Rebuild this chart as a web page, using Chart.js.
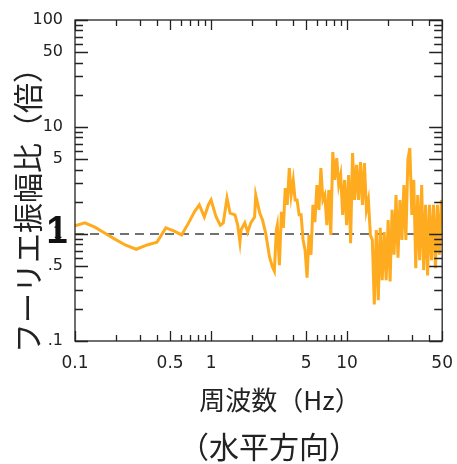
<!DOCTYPE html>
<html>
<head>
<meta charset="utf-8">
<script src="https://cdn.jsdelivr.net/npm/chart.js@4.4.1/dist/chart.umd.min.js"></script>
<style>
  html, body { margin: 0; padding: 0; background: #fff; }
  #wrap { width: 457px; height: 464px; position: relative; }
</style>
</head>
<body>
<div id="wrap"><canvas id="myChart"></canvas></div>
<script>
// frequency (Hz) and Fourier amplitude ratio
var freqHz = [
  0.1, 0.118, 0.14, 0.165, 0.195, 0.234, 0.282, 0.339, 0.40, 0.428,
  0.465, 0.532, 0.608, 0.684, 0.755, 0.82, 0.893, 0.955, 1.0, 1.09,
  1.17, 1.23, 1.31, 1.38, 1.50, 1.57, 1.63, 1.66, 1.77, 1.86,
  1.96, 2.09, 2.13, 2.28, 2.39, 2.52, 2.69, 2.83, 2.92, 3.02,
  3.07, 3.18, 3.29, 3.40, 3.51, 3.63, 3.76, 3.88, 4.02, 4.15,
  4.29, 4.44, 4.59, 4.75, 4.91, 5.08, 5.25, 5.43, 5.61, 5.80,
  6.00, 6.21, 6.42, 6.64, 6.86, 7.10, 7.34, 7.59, 7.85, 8.11,
  8.39, 8.68, 8.97, 9.28, 9.59, 9.92, 10.26, 10.61, 10.97, 11.34,
  11.73, 12.13, 12.54, 12.97, 13.41, 13.87, 14.34, 14.83, 15.33, 15.85,
  16.39, 16.95, 17.52, 18.12, 18.73, 19.37, 20.03, 20.71, 21.41, 22.14,
  22.89, 23.67, 24.47, 25.30, 26.16, 27.05, 27.97, 28.92, 29.90, 30.92,
  31.97, 33.05, 34.17, 35.33, 36.53, 37.77, 39.05, 40.37, 41.74, 43.16,
  44.62, 46.13, 47.70, 49.32, 50
];
var ampRatio = [
  1.19, 1.27, 1.16, 1.02, 0.90, 0.79, 0.72, 0.79, 0.84, 0.96,
  1.14, 1.07, 0.98, 1.27, 1.61, 1.87, 1.44, 1.87, 2.08, 1.44,
  1.21, 1.27, 2.17, 1.57, 1.51, 1.21, 0.84, 1.09, 1.27, 1.04,
  1.27, 1.44, 2.31, 1.57, 1.35, 1.02, 0.61, 0.49, 0.45, 1.09,
  1.21, 0.51, 1.61, 1.14, 2.69, 1.87, 4.14, 2.31, 3.20, 2.08,
  2.08, 1.51, 1.51, 0.88, 0.71, 0.39, 0.98, 0.64, 1.87, 1.29,
  2.87, 1.68, 4.14, 2.08, 2.31, 1.21, 2.58, 0.98, 5.84, 3.20,
  5.13, 2.87, 3.56, 1.51, 3.20, 1.21, 3.56, 0.82, 5.71, 2.08,
  4.42, 2.08, 4.71, 1.87, 4.61, 1.68, 2.08, 0.98, 0.88, 0.22,
  1.09, 0.24, 1.14, 0.37, 1.04, 0.37, 1.35, 0.36, 1.68, 0.64,
  2.31, 0.60, 2.08, 0.88, 2.87, 0.88, 4.92, 6.36, 1.51, 3.20,
  0.48, 2.31, 0.57, 2.87, 0.46, 1.87, 0.41, 1.87, 0.57, 1.87,
  0.48, 1.87, 0.64, 2.08, 1.68
];

var xTicks = [0.1, 0.5, 1, 5, 10, 50];
var xTickLabels = ['0.1', '0.5', '1', '5', '10', '50'];
var yTicks = [0.1, 0.5, 1, 5, 10, 50, 100];
var yTickLabels = ['.1', '.5', '1', '5', '10', '50', '100'];
var refLevel = [1, 1];

var xTitle = '周波数（Hz）';
var xSubTitle = '（水平方向）';
var yTitle = 'フーリエ振幅比（倍）';

var points = freqHz.map(function(f, i) { return {x: f, y: ampRatio[i]}; });

// inward tick marks on all four sides, plus the axis titles
var frame = {
  id: 'frame',
  afterDraw: function(chart) {
    var ctx = chart.ctx, a = chart.chartArea;
    var xs = chart.scales.x, ys = chart.scales.y;
    ctx.save();
    ctx.strokeStyle = '#222';
    ctx.lineWidth = 1.3;
    ctx.strokeRect(a.left, a.top, a.right - a.left, a.bottom - a.top);
    ctx.beginPath();
    [0.1, 1, 10].forEach(function(d) {
      for (var m = 1; m <= 9; m++) {
        var v = d * m;
        var major = (m === 1 || m === 5);
        if (v >= 0.1 && v <= 50) {
          var px = Math.round(xs.getPixelForValue(v)) + 0.5;
          var L = major ? 10 : 6;
          ctx.moveTo(px, a.bottom); ctx.lineTo(px, a.bottom - L);
          ctx.moveTo(px, a.top); ctx.lineTo(px, a.top + L);
        }
      }
    });
    [0.1, 1, 10, 100].forEach(function(d) {
      for (var m = 1; m <= 9; m++) {
        var v = d * m;
        var major = (m === 1 || m === 5);
        if (v >= 0.1 && v <= 100) {
          var py = Math.round(ys.getPixelForValue(v)) + 0.5;
          var L = major ? 13 : 8;
          ctx.moveTo(a.left, py); ctx.lineTo(a.left + L, py);
          ctx.moveTo(a.right, py); ctx.lineTo(a.right - L, py);
        }
      }
    });
    ctx.stroke();

    ctx.fillStyle = '#222';
    ctx.textAlign = 'center';
    ctx.textBaseline = 'middle';
    ctx.font = '26px "Noto Sans CJK JP"';
    ctx.fillText(xTitle, 280, 400);
    ctx.font = '30px "Noto Sans CJK JP"';
    ctx.fillText(xSubTitle, 269, 447);
    ctx.translate(28, 203);
    ctx.rotate(-Math.PI / 2);
    ctx.fillText(yTitle, 0, 0);
    ctx.restore();

    // stray bold "1" beside the y axis
    ctx.save();
    ctx.fillStyle = '#111';
    ctx.font = 'bold 38px "Liberation Sans"';
    ctx.textAlign = 'center';
    ctx.textBaseline = 'alphabetic';
    ctx.fillText('1', 57, 243);
    ctx.restore();
  }
};

var ctx = document.getElementById('myChart').getContext('2d');
var chart = new Chart(ctx, {
  type: 'line',
  data: {
    datasets: [{
      data: points,
      borderColor: '#ffab1f',
      borderWidth: 3,
      pointRadius: 0,
      tension: 0,
      order: 1
    }, {
      data: [{x: 0.1, y: refLevel[0]}, {x: 50, y: refLevel[1]}],
      borderColor: '#444',
      borderWidth: 1.5,
      borderDash: [9, 6],
      pointRadius: 0,
      order: 2
    }]
  },
  options: {
    responsive: true,
    maintainAspectRatio: false,
    animation: false,
    layout: { padding: { left: 0, top: 20, right: 10, bottom: 0 } },
    plugins: { legend: { display: false }, tooltip: { enabled: false } },
    scales: {
      x: {
        type: 'logarithmic',
        min: 0.1, max: 50,
        afterBuildTicks: function(s) { s.ticks = xTicks.map(function(v) { return {value: v}; }); },
        afterFit: function(s) { s.height = 123; },
        grid: { display: false },
        border: { display: false },
        ticks: {
          autoSkip: false, maxRotation: 0, padding: 4,
          color: '#222',
          font: { family: 'DejaVu Sans', size: 17 },
          callback: function(v) { return xTickLabels[xTicks.indexOf(v)]; }
        }
      },
      y: {
        type: 'logarithmic',
        min: 0.1, max: 100,
        afterBuildTicks: function(s) { s.ticks = yTicks.map(function(v) { return {value: v}; }); },
        afterFit: function(s) { s.width = 75; },
        grid: { display: false },
        border: { display: false },
        ticks: {
          autoSkip: false, padding: 4,
          color: '#222',
          font: { family: 'DejaVu Sans', size: 16 },
          callback: function(v) { return yTickLabels[yTicks.indexOf(v)]; }
        }
      }
    }
  },
  plugins: [frame]
});
</script>
</body>
</html>
